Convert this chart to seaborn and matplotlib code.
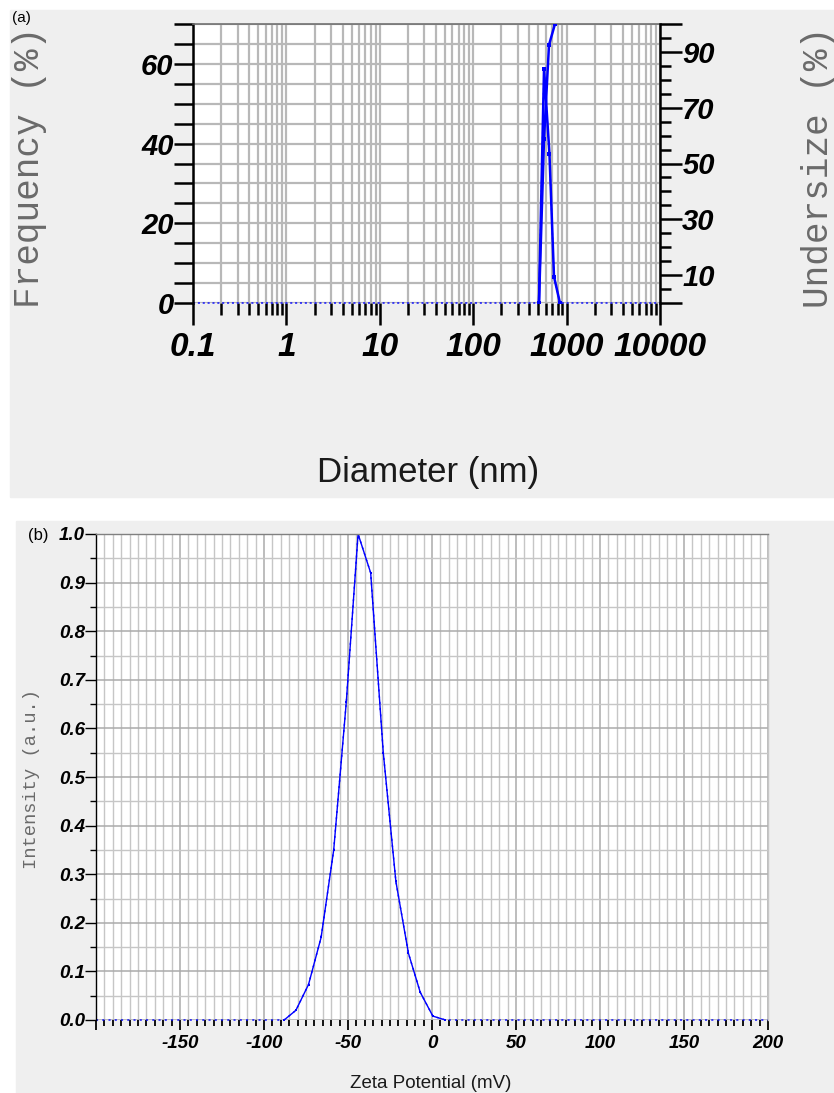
import matplotlib
matplotlib.use("Agg")
import matplotlib.pyplot as plt
import seaborn as sns
from matplotlib.patches import Rectangle
from matplotlib.ticker import FixedLocator, FixedFormatter, MultipleLocator, FuncFormatter, LogLocator

sns.set_theme(style="ticks")
plt.rcParams['font.family'] = ['Liberation Sans', 'DejaVu Sans']
plt.rcParams['axes.unicode_minus'] = False

# (a) particle size distribution
diameter = [0.1, 506, 573, 655, 733, 849, 10000]
frequency = [0, 0, 58.7, 37.5, 6.6, 0, 0]
undersize_diameter = [506, 573, 648, 751]
undersize = [0, 58.7, 92.5, 100]

# (b) zeta potential distribution
zeta = [-200, -88, -81, -73.5, -66, -58.5, -51, -44, -36.5, -29, -21.5, -14, -7, 0.5, 8, 200]
intensity = [0, 0, 0.02, 0.073, 0.17, 0.35, 0.655, 1.0, 0.92, 0.55, 0.285, 0.137, 0.057, 0.008, 0, 0]

W, H = 834, 1093
fig = plt.figure(figsize=(W / 100, H / 100), dpi=100)
fig.patch.set_facecolor('white')

# grey panel backgrounds
fig.patches.append(Rectangle((10 / W, 1 - 497 / H), 1 - 10 / W, 487 / H,
                             transform=fig.transFigure, color='#efefef', zorder=-5))
fig.patches.append(Rectangle((16 / W, 0), 1 - 16 / W, 1 - 521 / H,
                             transform=fig.transFigure, color='#efefef', zorder=-5))

def px_axes(left, top, right, bottom):
    return fig.add_axes([left / W, 1 - bottom / H, (right - left) / W, (bottom - top) / H])

def style_ticklabels(labels, size, family='Liberation Sans'):
    plt.setp(labels, fontsize=size, fontweight='bold', fontstyle='italic',
             family=family, color='black')

blue = '#0000ff'
mono = ['Liberation Mono', 'DejaVu Sans Mono']

# ---------------- panel (a) ----------------
ax1 = px_axes(193, 24, 660, 303)
ax1.set_facecolor('white')
ax1.set_xscale('log')
ax1.set_xlim(0.1, 10000)
ax1.set_ylim(0, 70)

sns.lineplot(x=diameter, y=frequency, ax=ax1, color=blue, linewidth=1.0,
             linestyle=(0, (1.5, 2.0)), estimator=None, sort=False, clip_on=False)
sns.lineplot(x=diameter[1:-1], y=frequency[1:-1], ax=ax1, color=blue, linewidth=1.8,
             marker='s', markersize=2.5, markeredgewidth=0,
             estimator=None, sort=False)

ax1.xaxis.set_major_locator(LogLocator(base=10, numticks=10))
ax1.xaxis.set_minor_locator(LogLocator(base=10, subs=range(2, 10), numticks=10))
ax1.xaxis.set_major_formatter(FuncFormatter(lambda v, p: f'{v:g}'))
ax1.yaxis.set_major_locator(FixedLocator([0, 20, 40, 60, 70]))
ax1.yaxis.set_major_formatter(FixedFormatter(['0', '20', '40', '60', '']))
ax1.yaxis.set_minor_locator(MultipleLocator(5))

ax1.grid(True, which='both', axis='both', color='#b8b8b8', linewidth=1.6)
ax1.set_axisbelow(True)

ax1.tick_params(axis='x', which='major', direction='out', length=16, width=1.8,
                color='black', pad=5)
ax1.tick_params(axis='x', which='minor', direction='out', length=8.5, width=1.8, color='black')
ax1.tick_params(axis='y', which='both', direction='out', length=14, width=1.8,
                color='black', pad=0)
style_ticklabels(ax1.get_xticklabels(), 24)
style_ticklabels(ax1.get_yticklabels(), 21)

ax1.spines['left'].set_color('black')
ax1.spines['left'].set_linewidth(1.8)
ax1.spines['top'].set_color('#707070')
ax1.spines['top'].set_linewidth(1.2)
ax1.spines['bottom'].set_visible(False)
ax1.spines['right'].set_visible(False)
ax1.set_xlabel('')
ax1.set_ylabel('')

ax1r = ax1.twinx()
ax1r.set_ylim(0, 100)
sns.lineplot(x=undersize_diameter, y=undersize, ax=ax1r, color=blue, linewidth=1.8,
             marker='s', markersize=2.5, markeredgewidth=0,
             estimator=None, sort=False)
ax1r.yaxis.set_major_locator(FixedLocator([0, 10, 30, 50, 70, 90, 100]))
ax1r.yaxis.set_major_formatter(FixedFormatter(['', '10', '30', '50', '70', '90', '']))
ax1r.yaxis.set_minor_locator(MultipleLocator(5))
ax1r.tick_params(axis='y', which='major', direction='out', length=16, width=1.8,
                 color='black', pad=0)
ax1r.tick_params(axis='y', which='minor', direction='out', length=8, width=1.8, color='black')
style_ticklabels(ax1r.get_yticklabels(), 21)
for side in ['left', 'top', 'bottom']:
    ax1r.spines[side].set_visible(False)
ax1r.spines['right'].set_color('black')
ax1r.spines['right'].set_linewidth(1.8)
ax1r.set_ylabel('')

fig.text(30 / W, 1 - 167 / H, 'Frequency (%)', rotation=90, ha='center', va='center',
         fontsize=26, family=mono, color='#6a6a6a')
fig.text(818 / W, 1 - 167 / H, 'Undersize (%)', rotation=90, ha='center', va='center',
         fontsize=26, family=mono, color='#6a6a6a')
fig.text(428 / W, 1 - 472 / H, 'Diameter (nm)', ha='center', va='center',
         fontsize=25, color='#1a1a1a')
fig.text(12 / W, 1 - 18 / H, '(a)', ha='left', va='center', fontsize=11, color='black')

# ---------------- panel (b) ----------------
ax2 = px_axes(96, 534, 768, 1020)
ax2.set_facecolor('white')
ax2.set_xlim(-200, 200)
ax2.set_ylim(0, 1.0)

sns.lineplot(x=zeta, y=intensity, ax=ax2, color=blue, linewidth=1.0,
             linestyle=(0, (1.5, 3.0)), estimator=None, sort=False, clip_on=False)
sns.lineplot(x=zeta[1:-1], y=intensity[1:-1], ax=ax2, color=blue, linewidth=1.0,
             marker='s', markersize=1.8, markeredgewidth=0,
             estimator=None, sort=False)

ax2.xaxis.set_major_locator(MultipleLocator(50))
ax2.xaxis.set_minor_locator(MultipleLocator(5))
ax2.xaxis.set_major_formatter(FuncFormatter(lambda v, p: '' if v <= -200 else f'{int(round(v))}'))
ax2.yaxis.set_major_locator(MultipleLocator(0.1))
ax2.yaxis.set_minor_locator(MultipleLocator(0.05))
ax2.yaxis.set_major_formatter(FuncFormatter(lambda v, p: f'{v:.1f}'))

ax2.grid(True, which='minor', axis='both', color='#c6c6c6', linewidth=1.0)
ax2.grid(True, which='major', axis='both', color='#ababab', linewidth=1.1)
ax2.set_axisbelow(True)

ax2.tick_params(axis='x', which='major', direction='out', length=7.5, width=1.3,
                color='black', pad=3)
ax2.tick_params(axis='x', which='minor', direction='out', length=4, width=1.3, color='black')
ax2.tick_params(axis='y', which='major', direction='out', length=8, width=1.0,
                color='black', pad=0)
ax2.tick_params(axis='y', which='minor', direction='out', length=4, width=1.0, color='black')
style_ticklabels(ax2.get_xticklabels(), 13.5)
style_ticklabels(ax2.get_yticklabels(), 13.5)

ax2.spines['left'].set_color('black')
ax2.spines['left'].set_linewidth(1.0)
ax2.spines['top'].set_color('#808080')
ax2.spines['top'].set_linewidth(1.0)
ax2.spines['right'].set_color('#c6c6c6')
ax2.spines['right'].set_linewidth(1.0)
ax2.spines['bottom'].set_visible(False)
ax2.set_xlabel('')
ax2.set_ylabel('')

fig.text(32 / W, 1 - 779 / H, 'Intensity (a.u.)', rotation=90, ha='center', va='center',
         fontsize=13.5, family=mono, color='#6a6a6a')
fig.text(431 / W, 1 - 1084 / H, 'Zeta Potential (mV)', ha='center', va='center',
         fontsize=13.5, color='#1a1a1a')
fig.text(28 / W, 1 - 536 / H, '(b)', ha='left', va='center', fontsize=12, color='black')

fig.savefig('out.png', dpi=100)
